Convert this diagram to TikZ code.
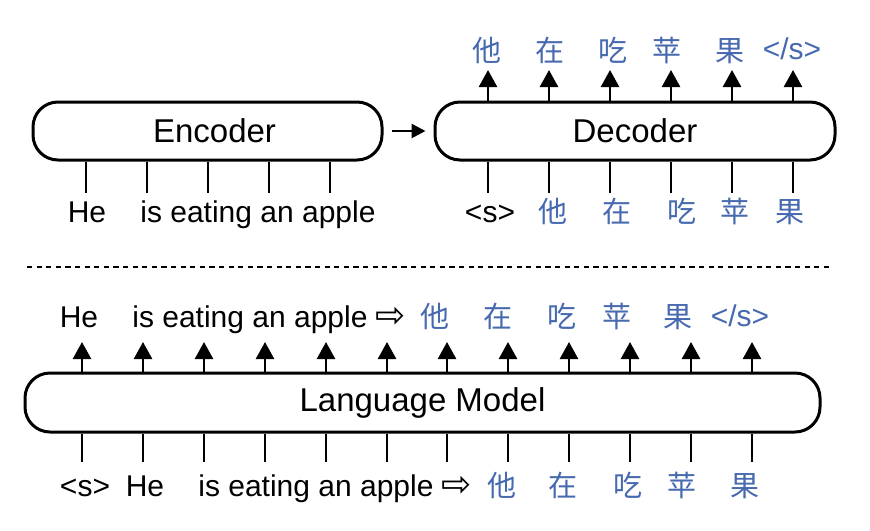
\documentclass[tikz,border=0pt]{standalone}
\usepackage{fontspec}
\setmainfont{Liberation Sans}
\newfontfamily\cjk{Noto Sans CJK SC}
\newfontfamily\dejavu{DejaVu Sans}
\usetikzlibrary{arrows.meta}
\definecolor{zhblue}{RGB}{70,105,175}
\begin{document}
\begin{tikzpicture}[x=0.5pt,y=-0.5pt,
  box/.style={draw, line width=1.5pt, rounded corners=12.5pt, inner sep=0pt, font=\fontsize{16.5}{19}\selectfont},
  lab/.style={anchor=base, inner sep=0pt, font=\fontsize{15}{18}\selectfont},
  zh/.style={anchor=base, inner sep=0pt, text=zhblue, font=\fontsize{14.5}{17}\selectfont\cjk},
  zhl/.style={anchor=base, inner sep=0pt, text=zhblue, font=\fontsize{15}{18}\selectfont},
  tok/.style={line width=1.3pt},
  outarr/.style={line width=1.3pt, -{Triangle[width=9pt,length=8.5pt]}}]
\useasboundingbox[fill=white] (0,0) rectangle (870,530);

% boxes
\node[box, minimum width=174.5pt, minimum height=29pt] (enc) at (207.5,131) {\hspace*{7pt}Encoder};
\node[box, minimum width=200pt, minimum height=29pt] (dec) at (635,131) {Decoder};
\node[box, minimum width=397.5pt, minimum height=29.5pt] (lm) at (422.5,402.5) {Language Model};

% encoder -> decoder
\draw[line width=1.3pt, -{Triangle[width=7pt,length=7pt]}, shorten <=4pt, shorten >=4pt] (enc.east) -- (dec.west);

% encoder inputs
\foreach \i/\x in {1/86,2/147,3/208,4/269,5/330}{
  \coordinate (e\i) at (\x,193);
  \draw[tok] (e\i |- enc.south) -- (e\i);
}
\node[lab] (ehe) at (87,222) {He};
\node[lab, anchor=base west] (erest) at (140,222) {is eating an apple};

% decoder inputs and outputs
\foreach \i/\x in {1/488,2/549,3/610,4/671,5/732,6/793}{
  \coordinate (di\i) at (\x,193);
  \draw[tok] (di\i |- dec.south) -- (di\i);
  \coordinate (do\i) at (\x,70);
  \draw[outarr] (do\i |- dec.north) -- (do\i);
}
\node[lab] (dis) at (490,222) {<s>};
\node[zh] (di1l) at (553,222) {他};
\node[zh] (di2l) at (617,222) {在};
\node[zh] (di3l) at (682,222) {吃};
\node[zh] (di4l) at (735,222) {苹};
\node[zh] (di5l) at (790,222) {果};

\node[zh] (do1l) at (487,61) {他};
\node[zh] (do2l) at (550,61) {在};
\node[zh] (do3l) at (613,61) {吃};
\node[zh] (do4l) at (667,61) {苹};
\node[zh] (do5l) at (730,61) {果};
\node[zhl] (do6l) at (792,59) {</s>};

% separator
\coordinate (sepl) at (27,267);
\coordinate (sepr) at (833,267);
\draw[line width=0.8pt, dash pattern=on 2.6pt off 2.2pt] (sepl) -- (sepr);

% language model arrows
\foreach \i/\x in {1/82,2/143,3/204,4/265,5/326,6/387,7/447,8/508,9/569,10/630,11/691,12/752}{
  \coordinate (li\i) at (\x,462);
  \draw[tok] (li\i |- lm.south) -- (li\i);
  \coordinate (lo\i) at (\x,342);
  \draw[outarr] (lo\i |- lm.north) -- (lo\i);
}

% LM outputs
\node[lab] (ohe) at (79,327) {He};
\node[lab, anchor=base west] (orest) at (132,327) {is eating an apple {\dejavu\fontsize{18}{20}\selectfont ⇨}};
\node[zh] (o1) at (435,327) {他};
\node[zh] (o2) at (498,327) {在};
\node[zh] (o3) at (562,327) {吃};
\node[zh] (o4) at (617,327) {苹};
\node[zh] (o5) at (678,327) {果};
\node[zhl] (o6) at (740,326) {</s>};

% LM inputs
\node[lab] (is) at (85,496) {<s>};
\node[lab] (ihe) at (145,496) {He};
\node[lab, anchor=base west] (irest) at (198,496) {is eating an apple {\dejavu\fontsize{18}{20}\selectfont ⇨}};
\node[zh] (i1) at (502,496) {他};
\node[zh] (i2) at (563,496) {在};
\node[zh] (i3) at (628,496) {吃};
\node[zh] (i4) at (682,496) {苹};
\node[zh] (i5) at (745,496) {果};
\end{tikzpicture}
\end{document}
